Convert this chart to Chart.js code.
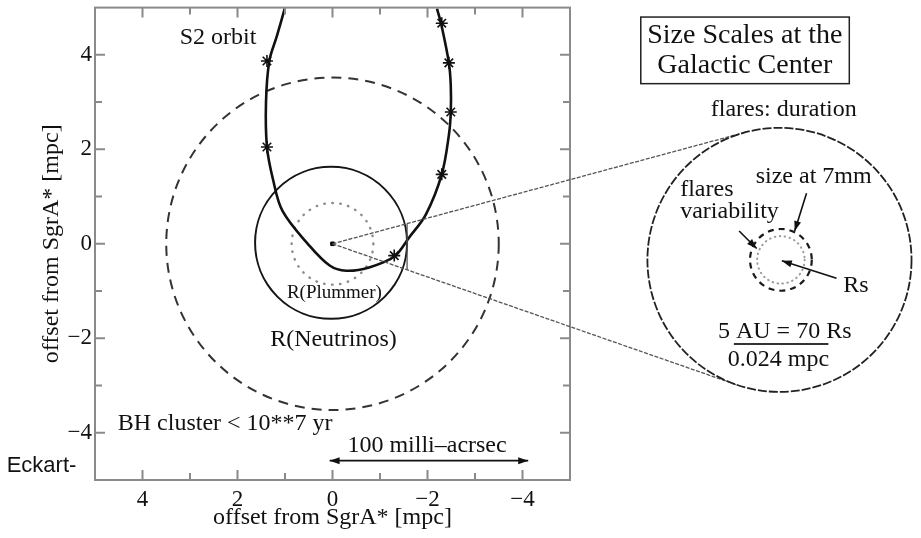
<!DOCTYPE html>
<html lang="en">
<head>
<meta charset="UTF-8">
<title>Size Scales at the Galactic Center</title>
<style>
  html, body { margin: 0; padding: 0; background: #fff; }
  #wrap { width: 921px; height: 538px; position: relative; }
</style>
<script src="https://cdn.jsdelivr.net/npm/chart.js@4"></script>
</head>
<body>
<div id="wrap"><canvas id="gcChart"></canvas></div>
<script>
// S2 orbit (mpc), left branch -> periapse -> right branch
const orbitX = [1.00, 1.17, 1.33, 1.40, 1.38, 1.25, 1.05, 0.52, 0.06, -0.29, -0.77, -1.30, -1.61, -1.97, -2.30, -2.45, -2.49, -2.49, -2.45, -2.30, -2.20];
const orbitY = [5.00, 4.40, 3.87, 3.00, 2.05, 1.35, 0.69, 0.00, -0.46, -0.57, -0.50, -0.27, 0.13, 0.63, 1.47, 2.30, 2.79, 3.35, 3.83, 4.60, 4.98];
// S2 positions (asterisks on the orbit)
const s2X = [1.38, 1.38, -2.30, -2.45, -2.49, -2.30, -1.30];
const s2Y = [3.87, 2.05, 4.67, 3.83, 2.79, 1.47, -0.25];
// circles: [centre x, centre y, radius] in mpc
const neutrinoCircle = [0, 0, 3.5];
const plummerCircle = [0.03, 0.02, 1.6];
const dottedCircle = [0, 0, 0.86];
// zoom inset, placed right of the frame in the same mpc units
const insetCircle = [-9.41, -0.34, 2.78];
const insetDashed = [-9.44, -0.34, 0.65];
const insetDotted = [-9.44, -0.34, 0.50];
const coneCutX = -1.57;
const scaleArrow = [0.06, -4.12, -4.59]; // x from, x to, y
const tickValues = [4, 2, 0, -2, -4];

const SERIF = '"Liberation Serif", "Times New Roman", serif';
const INK = '#111';

function tickLabel(v) {
  return tickValues.includes(v) ? String(v).replace('-', '\u2212') : '';
}

function px(chart, x, y) {
  return [chart.scales.x.getPixelForValue(x), chart.scales.y.getPixelForValue(y)];
}
function rpx(chart, r) {
  return Math.abs(chart.scales.x.getPixelForValue(r) - chart.scales.x.getPixelForValue(0));
}

function drawCircle(chart, c, color, width, dash, cap) {
  const ctx = chart.ctx;
  const [cx, cy] = px(chart, c[0], c[1]);
  ctx.save();
  ctx.strokeStyle = color;
  ctx.lineWidth = width;
  ctx.setLineDash(dash);
  ctx.lineCap = cap || 'butt';
  ctx.beginPath();
  ctx.arc(cx, cy, rpx(chart, c[2]), 0, Math.PI * 2);
  ctx.stroke();
  ctx.restore();
}

function arrowHead(ctx, x0, y0, x1, y1, len, wid) {
  const a = Math.atan2(y1 - y0, x1 - x0);
  ctx.beginPath();
  ctx.moveTo(x1, y1);
  ctx.lineTo(x1 - len * Math.cos(a) + wid * Math.sin(a), y1 - len * Math.sin(a) - wid * Math.cos(a));
  ctx.lineTo(x1 - len * Math.cos(a) - wid * Math.sin(a), y1 - len * Math.sin(a) + wid * Math.cos(a));
  ctx.closePath();
  ctx.fill();
}

function arrow(chart, from, to, both) {
  const ctx = chart.ctx;
  const [x0, y0] = px(chart, from[0], from[1]);
  const [x1, y1] = px(chart, to[0], to[1]);
  ctx.save();
  ctx.strokeStyle = INK; ctx.fillStyle = INK; ctx.lineWidth = 1.6;
  ctx.beginPath(); ctx.moveTo(x0, y0); ctx.lineTo(x1, y1); ctx.stroke();
  arrowHead(ctx, x0, y0, x1, y1, 10, 3.5);
  if (both) arrowHead(ctx, x1, y1, x0, y0, 10, 3.5);
  ctx.restore();
}

function text(chart, str, x, y, size, align, family) {
  const ctx = chart.ctx;
  const [tx, ty] = px(chart, x, y);
  ctx.save();
  ctx.font = size + 'px ' + (family || SERIF);
  ctx.fillStyle = INK;
  ctx.textAlign = align || 'center';
  ctx.textBaseline = 'middle';
  ctx.fillText(str, tx, ty);
  ctx.restore();
}

const sketchPlugin = {
  id: 'sketch',
  beforeDatasetsDraw(chart) {
    const ctx = chart.ctx;
    const a = chart.chartArea;
    ctx.save();
    ctx.beginPath(); ctx.rect(a.left, a.top, a.right - a.left, a.bottom - a.top); ctx.clip();
    drawCircle(chart, neutrinoCircle, '#333', 2, [10, 7]);
    drawCircle(chart, plummerCircle, '#151515', 2, []);
    drawCircle(chart, dottedCircle, '#8a8a8a', 2.4, [0.5, 7.5], 'round');
    ctx.restore();
  },
  afterDraw(chart) {
    const ctx = chart.ctx;
    const a = chart.chartArea;

    // frame with inward ticks on four sides
    ctx.save();
    ctx.strokeStyle = '#8a8a8a';
    ctx.lineWidth = 2;
    ctx.strokeRect(a.left, a.top, a.right - a.left, a.bottom - a.top);
    for (let v = -4; v <= 4; v++) {
      const len = v % 2 === 0 ? 10 : 7;
      const xp = chart.scales.x.getPixelForValue(v);
      const yp = chart.scales.y.getPixelForValue(v);
      ctx.beginPath();
      ctx.moveTo(xp, a.bottom); ctx.lineTo(xp, a.bottom - len);
      ctx.moveTo(xp, a.top); ctx.lineTo(xp, a.top + len);
      ctx.moveTo(a.left, yp); ctx.lineTo(a.left + len, yp);
      ctx.moveTo(a.right, yp); ctx.lineTo(a.right - len, yp);
      ctx.stroke();
    }
    ctx.restore();

    // zoom cone: tangents from SgrA* to the inset circle
    const [ox, oy] = px(chart, 0, 0);
    const [cx, cy] = px(chart, insetCircle[0], insetCircle[1]);
    const R = rpx(chart, insetCircle[2]);
    const d = Math.hypot(cx - ox, cy - oy);
    const base = Math.atan2(cy - oy, cx - ox);
    const alpha = Math.asin(R / d);
    const L = Math.sqrt(d * d - R * R);
    ctx.save();
    ctx.strokeStyle = '#555';
    ctx.lineWidth = 1.3;
    ctx.setLineDash([4, 1.5]);
    [base - alpha, base + alpha].forEach(t => {
      ctx.beginPath();
      ctx.moveTo(ox, oy);
      ctx.lineTo(ox + L * Math.cos(t), oy + L * Math.sin(t));
      ctx.stroke();
    });
    ctx.setLineDash([]);
    const cutX = chart.scales.x.getPixelForValue(coneCutX);
    ctx.beginPath();
    ctx.moveTo(cutX, oy + (cutX - ox) * Math.tan(base - alpha));
    ctx.lineTo(cutX, oy + (cutX - ox) * Math.tan(base + alpha));
    ctx.stroke();
    ctx.restore();

    // inset circles
    drawCircle(chart, insetCircle, '#222', 1.8, [9, 2]);
    drawCircle(chart, insetDotted, '#999', 2, [0.5, 4.5], 'round');
    drawCircle(chart, insetDashed, '#1a1a1a', 2.2, [6, 5]);

    // inset title box
    const [bx0, by0] = px(chart, -6.49, 4.80);
    const [bx1, by1] = px(chart, -10.88, 3.39);
    ctx.save();
    ctx.strokeStyle = '#222'; ctx.lineWidth = 1.5;
    ctx.strokeRect(bx0, by0, bx1 - bx0, by1 - by0);
    ctx.restore();
    text(chart, 'Size Scales at the', -8.68, 4.40, 28);
    text(chart, 'Galactic Center', -8.68, 3.77, 28);

    text(chart, 'flares: duration', -9.50, 2.83, 24);
    text(chart, 'size at 7mm', -10.13, 1.42, 24);
    text(chart, 'flares', -7.32, 1.15, 24, 'left');
    text(chart, 'variability', -7.32, 0.69, 24, 'left');
    text(chart, 'Rs', -10.75, -0.88, 24, 'left');
    text(chart, '5 AU = 70 Rs', -9.52, -1.86, 24);
    text(chart, '0.024 mpc', -9.39, -2.45, 24);
    const [ux0, uy] = px(chart, -8.45, -2.12);
    const [ux1] = px(chart, -10.44, -2.12);
    ctx.save();
    ctx.strokeStyle = '#333'; ctx.lineWidth = 2;
    ctx.beginPath(); ctx.moveTo(ux0, uy); ctx.lineTo(ux1, uy); ctx.stroke();
    ctx.restore();

    arrow(chart, [-8.56, 0.27], [-8.93, -0.10]);
    arrow(chart, [-9.98, 1.07], [-9.73, 0.27]);
    arrow(chart, [-10.61, -0.73], [-9.46, -0.36]);

    // labels in the main panel
    text(chart, 'S2 orbit', 2.41, 4.36, 24);
    text(chart, 'R(Plummer)', -0.04, -1.05, 19);
    text(chart, 'R(Neutrinos)', -0.02, -2.03, 24);
    text(chart, 'BH cluster < 10**7 yr', 2.26, -3.81, 24);
    text(chart, '100 milli\u2013acrsec', -1.99, -4.27, 24);
    arrow(chart, [scaleArrow[0], scaleArrow[2]], [scaleArrow[1], scaleArrow[2]], true);
    text(chart, 'Eckart-', 6.86, -4.71, 22, 'left', '"Liberation Sans", Arial, sans-serif');
  }
};

const orbitData = orbitX.map((x, i) => ({ x, y: orbitY[i] }));
const s2Data = s2X.map((x, i) => ({ x, y: s2Y[i] }));

const axisFont = { family: SERIF, size: 23 };
const titleFont = { family: SERIF, size: 24 };

new Chart(document.getElementById('gcChart'), {
  type: 'scatter',
  data: {
    datasets: [
      {
        label: 'S2 orbit',
        data: orbitData,
        showLine: true,
        tension: 0.35,
        borderColor: '#111',
        borderWidth: 2.6,
        pointRadius: 0
      },
      {
        label: 'S2 positions',
        data: s2Data,
        pointStyle: 'star',
        pointRadius: 6,
        borderColor: '#111',
        borderWidth: 1.6,
        backgroundColor: 'rgba(0,0,0,0)'
      },
      {
        label: 'SgrA*',
        data: [{ x: 0, y: 0 }],
        pointStyle: 'rect',
        pointRadius: 2.5,
        borderColor: '#000',
        backgroundColor: '#000'
      }
    ]
  },
  options: {
    responsive: true,
    maintainAspectRatio: false,
    animation: false,
    layout: { padding: { left: 0, top: 3, right: 351, bottom: 0 } },
    plugins: { legend: { display: false }, tooltip: { enabled: false } },
    scales: {
      x: {
        type: 'linear', min: -5, max: 5, reverse: true,
        grid: { display: false, drawTicks: false },
        border: { display: false },
        ticks: { stepSize: 1, autoSkip: false, maxRotation: 0, padding: 6, color: INK, font: axisFont, callback: tickLabel },
        title: { display: true, text: 'offset from SgrA* [mpc]', color: INK, font: titleFont, padding: { top: 0, bottom: 6 } },
        afterFit: s => { s.height = 58; s.paddingLeft = 0; s.paddingRight = 0; }
      },
      y: {
        type: 'linear', min: -5, max: 5,
        grid: { display: false, drawTicks: false },
        border: { display: false },
        ticks: { stepSize: 1, autoSkip: false, padding: 3, color: INK, font: axisFont, callback: tickLabel },
        title: { display: true, text: 'offset from SgrA* [mpc]', color: INK, font: titleFont, padding: { top: 37, bottom: 0 } },
        afterFit: s => { s.width = 95; s.paddingTop = 0; s.paddingBottom = 0; }
      }
    }
  },
  plugins: [sketchPlugin]
});
</script>
</body>
</html>
